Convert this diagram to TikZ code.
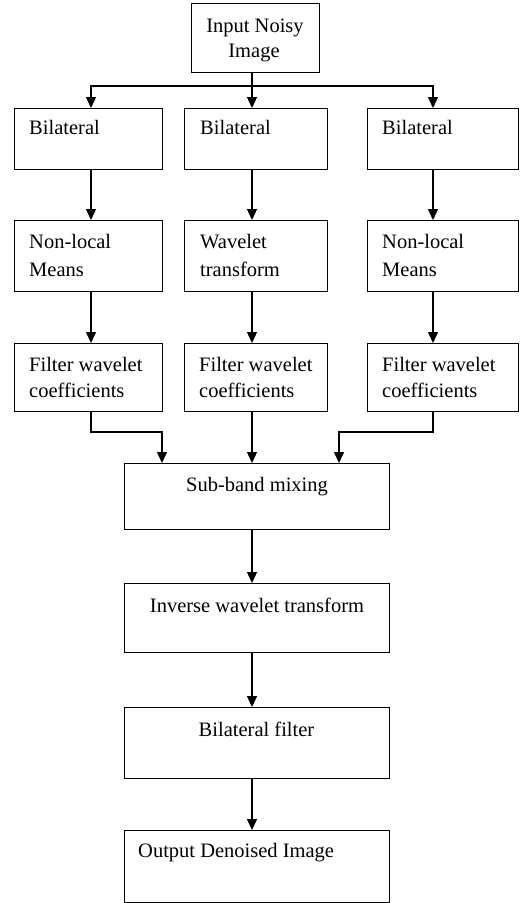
\documentclass[tikz,border=0pt]{standalone}
\usepackage{fontspec}
\setmainfont{Liberation Serif}
\usetikzlibrary{arrows.meta}
\begin{document}
\begin{tikzpicture}[x=1pt,y=-1pt,
  box/.style={draw, line width=1.4pt, inner sep=0, anchor=north west},
  txt/.style={inner sep=0, font=\fontsize{20.5}{27}\selectfont},
  wire/.style={line width=1.4pt},
  conn/.style={line width=1.4pt, -{Triangle[width=10pt,length=11pt]}}]
\useasboundingbox (0,0) rectangle (527,903);
% boxes
\node[box, minimum width=128pt, minimum height=69pt] (top) at (191,3) {};
\node[box, minimum width=148pt, minimum height=61pt] (l1) at (14,108) {};
\node[box, minimum width=143pt, minimum height=61pt] (m1) at (184,108) {};
\node[box, minimum width=151pt, minimum height=61pt] (r1) at (367,108) {};
\node[box, minimum width=148pt, minimum height=71pt] (l2) at (14,220) {};
\node[box, minimum width=143pt, minimum height=71pt] (m2) at (184,220) {};
\node[box, minimum width=151pt, minimum height=71pt] (r2) at (367,220) {};
\node[box, minimum width=148pt, minimum height=68pt] (l3) at (14,343) {};
\node[box, minimum width=143pt, minimum height=68pt] (m3) at (184,343) {};
\node[box, minimum width=151pt, minimum height=68pt] (r3) at (367,343) {};
\node[box, minimum width=265pt, minimum height=66pt] (sub) at (124,463) {};
\node[box, minimum width=265pt, minimum height=69pt] (inv) at (124,583) {};
\node[box, minimum width=265pt, minimum height=71pt] (bil) at (124,707) {};
\node[box, minimum width=265pt, minimum height=72pt] (out) at (124,830) {};
% texts
\node[txt, anchor=base] (t0a) at (255,32) {Input Noisy};
\node[txt, anchor=base] (t0b) at (254,57) {Image};
\node[txt, anchor=base west] (t1a) at (29,134) {Bilateral};
\node[txt, anchor=base west] (t1b) at (200,134) {Bilateral};
\node[txt, anchor=base west] (t1c) at (382,134) {Bilateral};
\node[txt, anchor=base west] (t2a1) at (29,248) {Non-local};
\node[txt, anchor=base west] (t2a2) at (29,276) {Means};
\node[txt, anchor=base west] (t2b1) at (200,248) {Wavelet};
\node[txt, anchor=base west] (t2b2) at (200,276) {transform};
\node[txt, anchor=base west] (t2c1) at (382,248) {Non-local};
\node[txt, anchor=base west] (t2c2) at (382,276) {Means};
\node[txt, anchor=base west] (t3a1) at (29,371) {Filter wavelet};
\node[txt, anchor=base west] (t3a2) at (29,397) {coefficients};
\node[txt, anchor=base west] (t3b1) at (199,371) {Filter wavelet};
\node[txt, anchor=base west] (t3b2) at (199,397) {coefficients};
\node[txt, anchor=base west] (t3c1) at (382,371) {Filter wavelet};
\node[txt, anchor=base west] (t3c2) at (382,397) {coefficients};
\node[txt, anchor=base] (t4) at (257,491) {Sub-band mixing};
\node[txt, anchor=base] (t5) at (257,612) {Inverse wavelet transform};
\node[txt, anchor=base] (t6) at (256.5,736) {Bilateral filter};
\node[txt, anchor=base west] (t7) at (138,857) {Output Denoised Image};
% connector coordinates
\coordinate (xa) at (91,0);
\coordinate (xb) at (252,0);
\coordinate (xc) at (433,0);
\coordinate (split) at (252,86);
\coordinate (jl) at (162,432);
\coordinate (jr) at (339,432);
% connectors
\draw[wire] (top.south -| xb) -- (split);
\draw[conn] (split) -| (l1.north -| xa);
\draw[conn] (split) -- (m1.north -| xb);
\draw[conn] (split) -| (r1.north -| xc);
\draw[conn] (l1.south -| xa) -- (l2.north -| xa);
\draw[conn] (m1.south -| xb) -- (m2.north -| xb);
\draw[conn] (r1.south -| xc) -- (r2.north -| xc);
\draw[conn] (l2.south -| xa) -- (l3.north -| xa);
\draw[conn] (m2.south -| xb) -- (m3.north -| xb);
\draw[conn] (r2.south -| xc) -- (r3.north -| xc);
\draw[conn] (l3.south -| xa) |- (jl) -- (sub.north -| jl);
\draw[conn] (m3.south -| xb) -- (sub.north -| xb);
\draw[conn] (r3.south -| xc) |- (jr) -- (sub.north -| jr);
\draw[conn] (sub.south -| xb) -- (inv.north -| xb);
\draw[conn] (inv.south -| xb) -- (bil.north -| xb);
\draw[conn] (bil.south -| xb) -- (out.north -| xb);
\end{tikzpicture}
\end{document}
